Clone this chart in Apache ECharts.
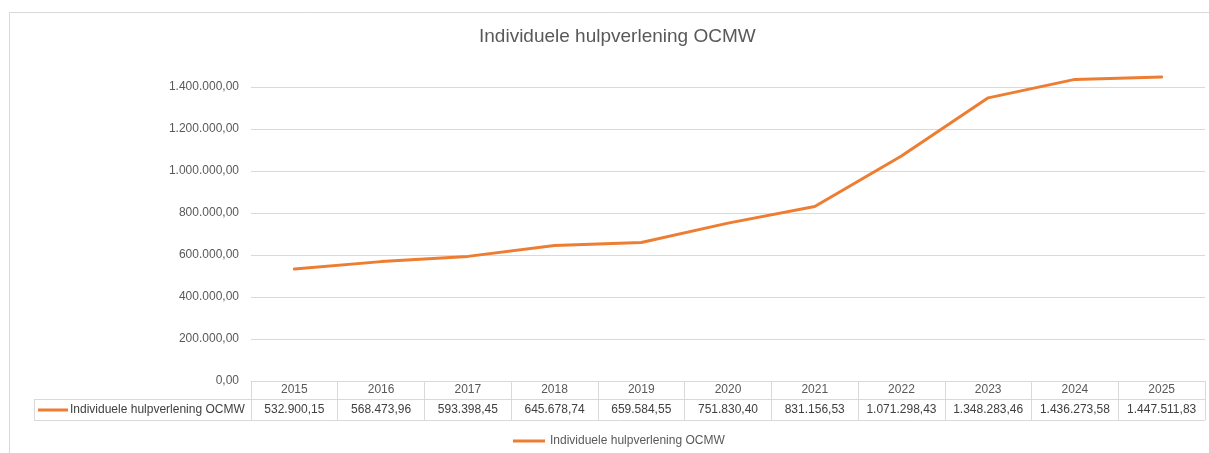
<!DOCTYPE html>
<html>
<head>
<meta charset="utf-8">
<script src="https://cdn.jsdelivr.net/npm/echarts@6/dist/echarts.min.js"></script>
<style>
html,body{margin:0;padding:0;background:#fff;}
#c{width:1209px;height:453px;}
</style>
</head>
<body>
<div id="c"></div>
<script>
const title = 'Individuele hulpverlening OCMW';
const seriesName = 'Individuele hulpverlening OCMW';
const years = ['2015','2016','2017','2018','2019','2020','2021','2022','2023','2024','2025'];
const values = [532900.15, 568473.96, 593398.45, 645678.74, 659584.55, 751830.40, 831156.53, 1071298.43, 1348283.46, 1436273.58, 1447511.83];

function fmt(n){
  const neg = n < 0;
  const fixed = Math.abs(n).toFixed(2);
  let [ip, dp] = fixed.split('.');
  ip = ip.replace(/\B(?=(\d{3})+(?!\d))/g, '.');
  return (neg ? '-' : '') + ip + ',' + dp;
}

const FONT = '"Liberation Sans", Arial, sans-serif';
const GRID_L = 251, GRID_R = 4, GRID_T = 87, GRID_B = 72;
const W = 1209, H = 453;
const tableTop = H - GRID_B;      // 381
const rowSplit = 399, tableBot = 420, labelLeft = 34;
const lineCol = '#d9d9d9';
const orange = '#ED7D31';

const chart = echarts.init(document.getElementById('c'), null, {renderer:'canvas'});
chart.setOption({
  animation: false,
  backgroundColor: '#fff',
  title: {
    text: title, left: 474, top: 22,
    textStyle: {fontFamily: FONT, fontSize: 19, fontWeight: 'normal', color: '#595959'}
  },
  legend: {
    data: [seriesName], top: 430, left: 508,
    icon: 'rect', itemWidth: 32, itemHeight: 3, itemGap: 2,
    textStyle: {fontFamily: FONT, fontSize: 12, color: '#595959'}
  },
  grid: {left: GRID_L, right: GRID_R, top: GRID_T, bottom: GRID_B, containLabel: false},
  xAxis: {
    type: 'category', data: years, boundaryGap: true,
    axisLine: {show: true, lineStyle: {color: lineCol, width: 1}},
    axisTick: {show: true, length: tableBot - tableTop, lineStyle: {color: lineCol}},
    axisLabel: {
      interval: 0, margin: 0,
      formatter: (v, i) => '{y|' + v + '}\n{v|' + fmt(values[i]) + '}',
      rich: {
        y: {fontFamily: FONT, fontSize: 12, color: '#595959', lineHeight: 17},
        v: {fontFamily: FONT, fontSize: 12, color: '#404040', lineHeight: 24}
      }
    },
    splitLine: {show: false}
  },
  yAxis: {
    type: 'value', min: 0, max: 1400000, interval: 200000,
    axisLine: {show: false}, axisTick: {show: false},
    axisLabel: {margin: 12, fontFamily: FONT, fontSize: 12, color: '#595959', formatter: v => fmt(v)},
    splitLine: {lineStyle: {color: lineCol, width: 1}}
  },
  series: [{
    name: seriesName, type: 'line', data: values,
    symbol: 'none', clip: false,
    lineStyle: {color: orange, width: 3, cap: 'round', join: 'round'},
    itemStyle: {color: orange}
  }],
  graphic: [
    {type: 'rect', silent: true, shape: {x: 9.5, y: 12.5, width: W, height: H}, style: {fill: 'none', stroke: '#d9d9d9', lineWidth: 1}},
    {type: 'line', silent: true, shape: {x1: GRID_L, y1: rowSplit + 0.5, x2: W - GRID_R, y2: rowSplit + 0.5}, style: {stroke: lineCol, lineWidth: 1}},
    {type: 'line', silent: true, shape: {x1: labelLeft, y1: rowSplit + 0.5, x2: GRID_L, y2: rowSplit + 0.5}, style: {stroke: lineCol, lineWidth: 1}},
    {type: 'line', silent: true, shape: {x1: labelLeft, y1: tableBot + 0.5, x2: W - GRID_R, y2: tableBot + 0.5}, style: {stroke: lineCol, lineWidth: 1}},
    {type: 'line', silent: true, shape: {x1: labelLeft + 0.5, y1: rowSplit, x2: labelLeft + 0.5, y2: tableBot}, style: {stroke: lineCol, lineWidth: 1}},
    {type: 'line', silent: true, shape: {x1: labelLeft + 4, y1: (rowSplit + tableBot) / 2 + 0.5, x2: labelLeft + 34, y2: (rowSplit + tableBot) / 2 + 0.5}, style: {stroke: orange, lineWidth: 3}},
    {type: 'text', silent: true, x: labelLeft + 36, y: (rowSplit + tableBot) / 2 + 0.5, style: {text: seriesName, fontFamily: FONT, fontSize: 12, fill: '#404040', verticalAlign: 'middle', align: 'left'}}
  ]
});
</script>
</body>
</html>
